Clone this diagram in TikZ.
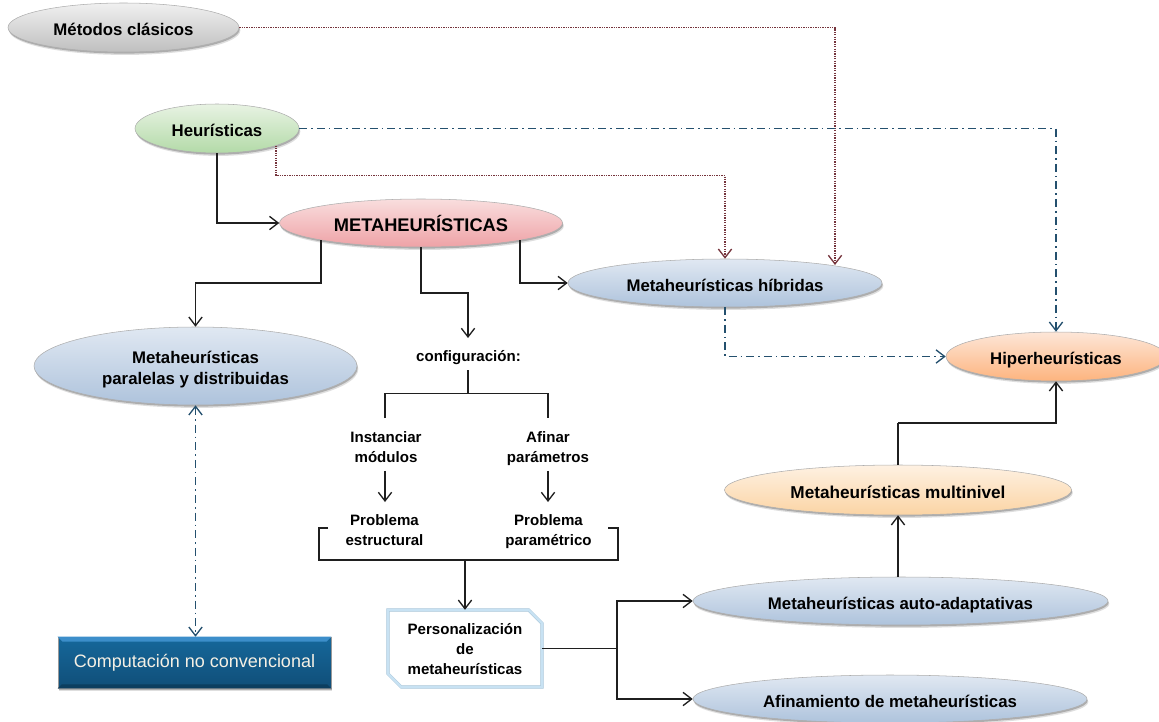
\documentclass[tikz,border=0pt]{standalone}
\usepackage{fontspec}
\setmainfont{Liberation Sans}
\usetikzlibrary{shapes.geometric,shapes.misc,shadows,arrows.meta,calc}
\definecolor{dred}{HTML}{75343C}
\definecolor{navy}{HTML}{24506E}
\tikzset{
  px/.style 2 args={minimum width=#1*0.75pt,minimum height=#2*0.75pt},
  soft/.style={drop shadow={shadow xshift=1pt,shadow yshift=-2.2pt,opacity=0.13,fill=black},
    drop shadow={shadow xshift=0.5pt,shadow yshift=-1.2pt,opacity=0.22,fill=black}},
  oval/.style={ellipse,inner sep=0pt,draw=black!32,line width=0.4pt,soft,
    text height=12pt,text depth=0pt,
    font=\fontsize{12.6pt}{15.75pt}\selectfont\bfseries,align=center},
  lbl/.style={font=\fontsize{11.3pt}{15pt}\selectfont\bfseries,align=center,inner sep=0pt,
    text height=8pt,text depth=2pt},
  twolines/.style={text height=23pt,text depth=2pt},
  blueoval/.style={oval,top color={rgb,255:red,224;green,232;blue,242},bottom color={rgb,255:red,174;green,195;blue,220}},
  link/.style={line width=1.2pt,draw=black!88,-{Straight Barb[length=6.5pt,width=10pt,line width=1pt]}},
  plain/.style={line width=1.2pt,draw=black!88},
  dotlink/.style={line width=0.95pt,draw=dred,dash pattern=on 1pt off 0.8pt,
    -{Straight Barb[length=6.5pt,width=10pt,line width=1pt,color=dred]}},
  dashlink/.style={line width=1.15pt,draw=navy,dash pattern=on 6pt off 3pt on 1.2pt off 3pt,
    -{Straight Barb[length=6.5pt,width=10pt,line width=1pt,color=navy]}},
}
\begin{document}
\begin{tikzpicture}[x=0.75pt,y=-0.75pt]
\useasboundingbox (0,0) rectangle (1159,721);
\clip (0,0) rectangle (1159,721);
\node[oval,px={231}{49},top color=gray!12,bottom color=gray!50] (clasicos) at (123.5,27.5) {Métodos clásicos};
\node[oval,px={164}{49},top color={rgb,255:red,232;green,243;blue,227},bottom color={rgb,255:red,179;green,218;blue,168}] (heur) at (217,128.5) {Heurísticas};
\node[oval,px={283}{48},top color={rgb,255:red,249;green,222;blue,222},bottom color={rgb,255:red,238;green,162;blue,166},font=\fontsize{13.7pt}{15pt}\selectfont\bfseries] (meta) at (421,223) {METAHEURÍSTICAS};
\node[blueoval,px={314}{48}] (hibridas) at (725,283) {Metaheurísticas híbridas};
\node[blueoval,px={323}{78},text height=27pt] (paralelas) at (195.5,366) {Metaheurísticas\\paralelas y distribuidas};
\node[oval,px={220}{49},top color={rgb,255:red,253;green,230;blue,216},bottom color={rgb,255:red,253;green,180;blue,126}] (hiper) at (1056,356.5) {Hiperheurísticas};
\node[oval,px={347}{50},top color={rgb,255:red,254;green,241;blue,226},bottom color={rgb,255:red,251;green,212;blue,164},font=\fontsize{12.9pt}{15pt}\selectfont\bfseries] (multi) at (898,490) {Metaheurísticas multinivel};
\node[blueoval,px={415}{48}] (auto) at (900.5,601) {Metaheurísticas auto-adaptativas};
\node[blueoval,px={394}{48}] (afin) at (890,699) {Afinamiento de metaheurísticas};
\node[rectangle,px={273}{51},inner sep=0pt,draw=black!40,line width=0.4pt,soft,
  top color={rgb,255:red,22;green,104;blue,155},bottom color={rgb,255:red,16;green,78;blue,120},
  text={rgb,255:red,245;green,240;blue,228},font=\fontsize{13.5pt}{15pt}\selectfont] (comp) at (194.5,662.5) {Computación no convencional};
\fill[color={rgb,255:red,60;green,142;blue,202}] (comp.north west) -- (comp.north east) -- ($(comp.north east)+(-5,5)$) -- ($(comp.north west)+(5,5)$) -- cycle;
\fill[color={rgb,255:red,12;green,62;blue,95}] (comp.south west) -- (comp.south east) -- ($(comp.south east)+(-4,-4)$) -- ($(comp.south west)+(4,-4)$) -- cycle;
\node[chamfered rectangle,chamfered rectangle corners={north east,south west},chamfered rectangle xsep=5pt,chamfered rectangle ysep=5pt,
  px={154}{77},inner sep=0pt,draw={rgb,255:red,165;green,195;blue,215},double={rgb,255:red,200;green,226;blue,243},double distance=1.7pt,line width=0.3pt,fill=white,lbl,text height=39pt,text depth=0pt] (perso) at (465,648.5) {Personalización\\de\\metaheurísticas};
\node[lbl] (config) at (468.5,357) {configuración:};
\node[lbl,twolines] (inst) at (386,448) {Instanciar\\módulos};
\node[lbl,twolines] (afi) at (548,448) {Afinar\\parámetros};
\node[lbl,twolines] (pest) at (384.5,531) {Problema\\estructural};
\node[lbl,twolines] (ppar) at (548.5,531) {Problema\\paramétrico};
% free ends and bends
\coordinate (brL) at (328,528);
\coordinate (brR) at (608,528);
\coordinate (brM) at (465,560);
\coordinate (trM) at (468,393.5);
\coordinate (trL) at (385,393.5);
\coordinate (trR) at (548,393.5);
\coordinate (split) at (perso.east -| 617,0);
\coordinate (mL) at ($(meta.center)+(-100,17)$);
\coordinate (mR) at ($(meta.center)+(99,17)$);
\coordinate (hd) at ($(heur.center)+(59,17)$);
\coordinate (hd2) at ($(hd)+(0,30)$);
\coordinate (ht) at ($(hibridas.center)+(110,-18)$);
\coordinate (cfgbend) at (468,293);
\coordinate (cfgin) at (468,338);
% connectors
\draw[dotlink] (clasicos.east) -| (ht);
\draw[dotlink] (hd) -- (hd2) -| (hibridas.north);
\draw[dashlink] (heur.east) -| (hiper.north);
\draw[link] (heur.south) |- (meta.west);
\draw[link] (mL) -- ($(mL)+(0,43)$) -| (paralelas.north);
\draw[link] (meta.south) |- (cfgbend) -- (cfgin);
\draw[link] (mR) |- (hibridas.west);
\draw[dashlink] (hibridas.south) |- (hiper.west);
\draw[dashlink,{Straight Barb[length=6.5pt,width=10pt,line width=1pt,color=navy]}-{Straight Barb[length=6.5pt,width=10pt,line width=1pt,color=navy]}] (paralelas.south) -- (paralelas.south |- comp.north);
\draw[plain] (trM |- 0,370) -- (trM);
\draw[plain] ($(inst.north -| trL)+(0,-13)$) -- (trL) -- (trR) -- ($(afi.north -| trR)+(0,-13)$);
\draw[link] ($(inst.south)+(-1,6)$) -- (385,502);
\draw[link] ($(afi.south)+(0,6)$) -- (548,502);
\draw[plain] (brL) -- (319,528) -- (319,560) -- (618,560) -- (618,528) -- (brR);
\draw[link] (brM) -- (perso.north);
\draw[plain] (perso.east) -- (split);
\draw[link] (split) |- (auto.west);
\draw[link] (split) |- (afin.west);
\draw[link] (auto.north -| multi.south) -- (multi.south);
\draw[plain] (multi.north) -- (multi.north |- 0,423);
\draw[link] (multi.north |- 0,423) -| (hiper.south);
\end{tikzpicture}
\end{document}
